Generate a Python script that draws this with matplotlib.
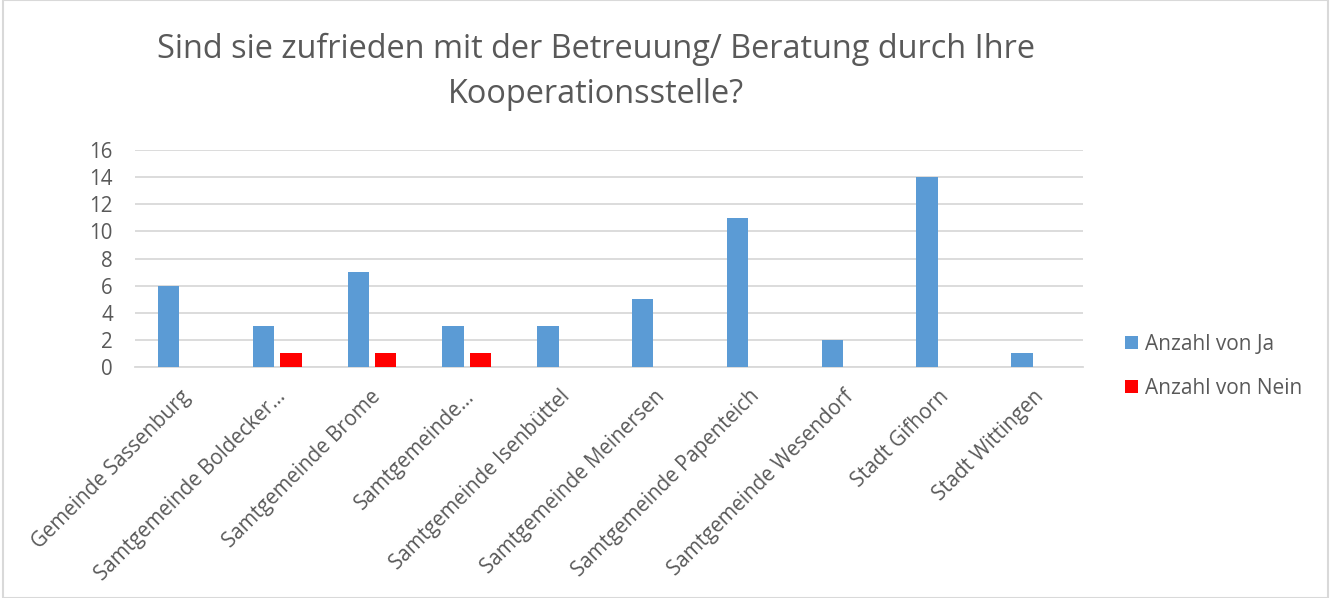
import matplotlib.pyplot as plt
from matplotlib.transforms import ScaledTranslation
import numpy as np

categories = ["Gemeinde Sassenburg", "Samtgemeinde Boldecker…", "Samtgemeinde Brome",
              "Samtgemeinde…", "Samtgemeinde Isenbüttel", "Samtgemeinde Meinersen",
              "Samtgemeinde Papenteich", "Samtgemeinde Wesendorf", "Stadt Gifhorn",
              "Stadt Wittingen"]
ja = [6, 3, 7, 3, 3, 5, 11, 2, 14, 1]
nein = [0, 1, 1, 1, 0, 0, 0, 0, 0, 0]

plt.rcParams['font.family'] = ['Open Sans', 'DejaVu Sans']
txt = '#595959'
grid = '#D9D9D9'

fig = plt.figure(figsize=(13.35, 5.98), dpi=100)
ax = fig.add_axes([135 / 1335, 1 - 367 / 598, (1083 - 135) / 1335, (367 - 150) / 598])

x = np.arange(len(categories))
w = 0.225
off = 0.145
ax.bar(x - off, ja, w, color='#5B9BD5', label='Anzahl von Ja', zorder=3)
ax.bar(x + off, [v if v else np.nan for v in nein], w, color='#FF0000',
       label='Anzahl von Nein', zorder=3)

ax.set_xlim(-0.5, len(categories) - 0.5)
ax.set_ylim(0, 16)
ax.set_yticks(range(0, 17, 2))
ax.yaxis.grid(True, color=grid, linewidth=1.3, zorder=0)
for s in ['top', 'right', 'left']:
    ax.spines[s].set_visible(False)
ax.spines['bottom'].set_color(grid)
ax.spines['bottom'].set_linewidth(1.3)
ax.tick_params(axis='both', length=0, colors=txt, labelsize=14.8)
ax.tick_params(axis='y', pad=16)
ax.set_xticks(x)
ax.set_xticklabels(categories, rotation=45, ha='right', va='center', rotation_mode='anchor')
ax.tick_params(axis='x', pad=19)
shift = ScaledTranslation(5 / 100, 0, fig.dpi_scale_trans)
for lab in ax.get_xticklabels():
    lab.set_transform(lab.get_transform() + shift)

fig.text(596 / 1335, 1 - 72 / 598,
         "Sind sie zufrieden mit der Betreuung/ Beratung durch Ihre\nKooperationsstelle?",
         ha='center', va='center', fontsize=23.4, color=txt, linespacing=1.5)

fig.legend(loc='upper left', bbox_to_anchor=(1125 / 1335, 1 - 334 / 598),
           frameon=False, fontsize=15, labelcolor=txt, handlelength=0.62,
           handleheight=0.62, handletextpad=0.34, labelspacing=1.1,
           borderpad=0, borderaxespad=0)

fig.patches.append(plt.Rectangle((3 / 1335, 0), 1325 / 1335, 1, transform=fig.transFigure,
                                 fill=False, edgecolor='#D9D9D9', linewidth=1.5))

fig.savefig('out.png', dpi=100)
